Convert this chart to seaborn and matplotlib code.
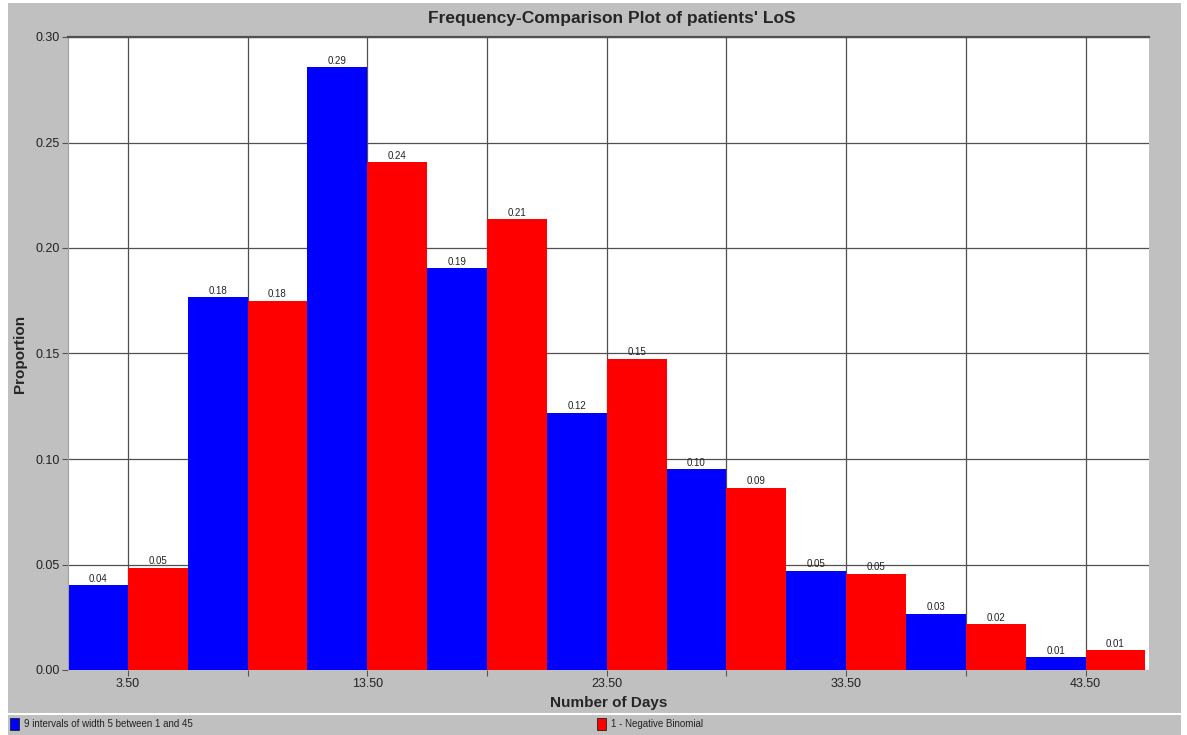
import numpy as np
import pandas as pd
import seaborn as sns
from matplotlib import pyplot as plt
from matplotlib.patches import Rectangle

# interval midpoints (9 intervals of width 5 from 1)
midpoints = [3.5, 8.5, 13.5, 18.5, 23.5, 28.5, 33.5, 38.5, 43.5]
observed = [0.0403, 0.1766, 0.2857, 0.1903, 0.1220, 0.0952, 0.0470, 0.0266, 0.0062]
neg_binomial = [0.0484, 0.1751, 0.2406, 0.2136, 0.1476, 0.0864, 0.0456, 0.0218, 0.0095]
series_names = ["9 intervals of width 5 between 1 and 45", "1 - Negative Binomial"]
bin_edges = [1, 6, 11, 16, 21, 26, 31, 36, 41, 46]
xtick_labels = ["3.50", "", "13.50", "", "23.50", "", "33.50", "", "43.50"]

df = pd.DataFrame({
    "days": midpoints * 2,
    "prop": observed + neg_binomial,
    "series": [series_names[0]] * 9 + [series_names[1]] * 9,
})

sns.set_style("white")
plt.rcParams["font.family"] = ["Liberation Sans", "DejaVu Sans"]

W, H = 1187, 735
fig = plt.figure(figsize=(W / 100, H / 100), dpi=100)
fig.patch.set_facecolor("white")
fig.patches.append(Rectangle((8 / W, 0), (1181 - 8) / W, 1 - 3 / H, transform=fig.transFigure,
                             facecolor="#c0c0c0", edgecolor="none", zorder=-10))
fig.lines.append(plt.Line2D([8 / W, 1181 / W], [1 - 714 / H] * 2, transform=fig.transFigure,
                            color="white", lw=1.5))

ax = fig.add_axes([68 / W, 1 - 670 / H, (1149 - 68) / W, (670 - 37) / H])
ax.set_facecolor("white")

sns.histplot(data=df, x="days", weights="prop", hue="series", bins=bin_edges,
             multiple="dodge", shrink=1, stat="count", element="bars", fill=True,
             palette=["#0000ff", "#ff0000"], alpha=1, linewidth=0, legend=False, ax=ax)

for c in ax.containers:
    ax.bar_label(c, fmt="%.2f", fontsize=7, padding=1, color="#222222")

ax.set_xlim(1, 46.15)
ax.set_ylim(0, 0.30)
ax.set_xticks(midpoints)
ax.set_xticklabels(xtick_labels, fontsize=9, color="#222222")
ax.set_yticks(np.arange(0, 0.31, 0.05))
ax.set_yticklabels(["%.2f" % v for v in np.arange(0, 0.31, 0.05)], fontsize=9, color="#222222")
ax.tick_params(axis="both", direction="out", length=4, width=0.8, color="#555555", pad=2,
               bottom=True, left=True)
ax.grid(True, color="#505050", lw=0.9)
ax.set_axisbelow(True)
for s in ["bottom", "right"]:
    ax.spines[s].set_visible(False)
ax.spines["top"].set_color("#505050")
ax.spines["top"].set_linewidth(1.6)
ax.spines["left"].set_color("#a0a0a0")

ax.set_xlabel("Number of Days", fontsize=11, fontweight="bold", labelpad=4)
ax.set_ylabel("Proportion", fontsize=11, fontweight="bold", labelpad=6)
fig.text(612 / W, 1 - 18 / H, "Frequency-Comparison Plot of patients' LoS",
         ha="center", va="center", fontsize=12.5, fontweight="bold")

# legend strip at the bottom
for xs, name, col in [(10, series_names[0], "#0000ff"), (597, series_names[1], "#ff0000")]:
    fig.patches.append(Rectangle((xs / W, 1 - 730 / H), 9 / W, 12 / H, transform=fig.transFigure,
                                 facecolor=col, edgecolor="#222222", lw=0.6))
    fig.text((xs + 14) / W, 1 - 724 / H, name, ha="left", va="center", fontsize=7, color="#222222")

fig.savefig("out.png", dpi=100, facecolor=fig.get_facecolor())
